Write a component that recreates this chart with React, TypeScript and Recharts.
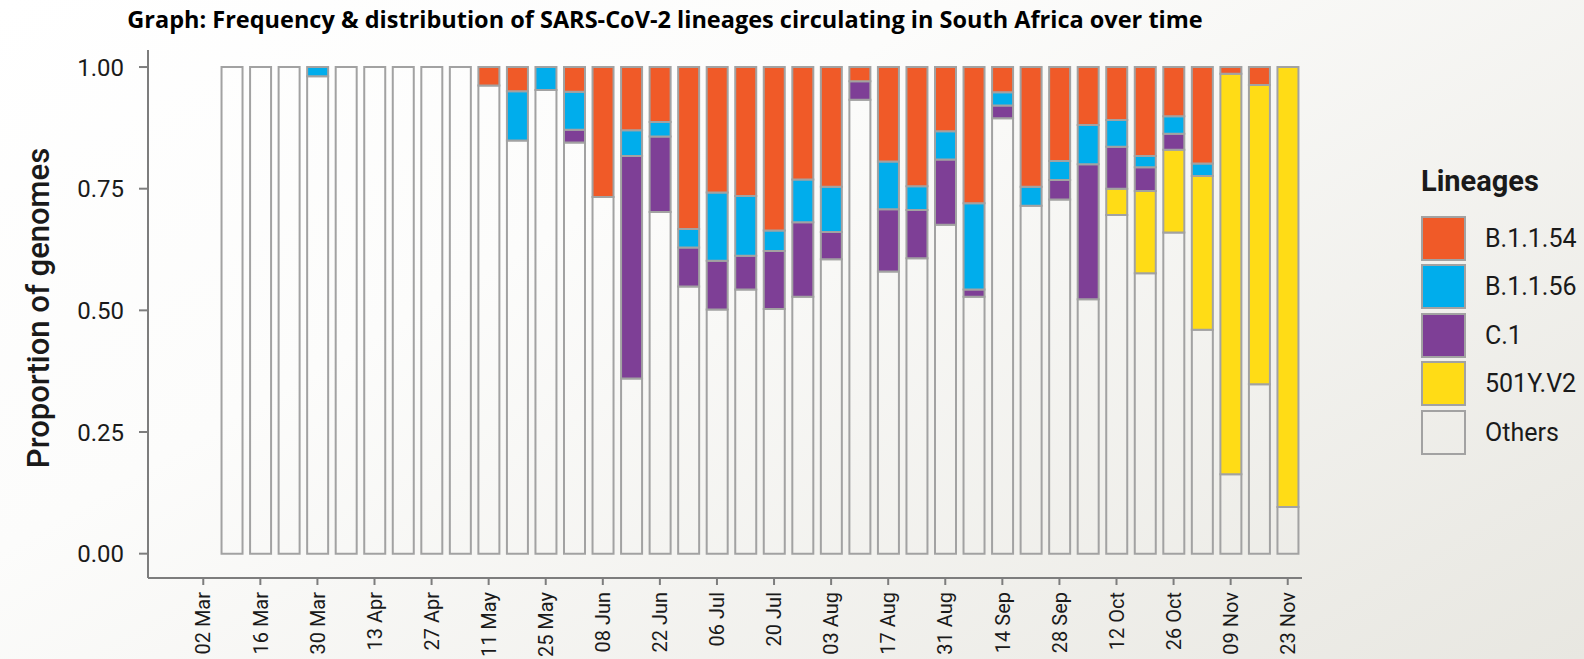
import { Bar, BarChart, XAxis, YAxis } from "recharts";

// weekly sampling dates (first week has no genomes)
const weeks = [
  "02 Mar", "09 Mar", "16 Mar", "23 Mar", "30 Mar", "06 Apr", "13 Apr", "20 Apr", "27 Apr", "04 May",
  "11 May", "18 May", "25 May", "01 Jun", "08 Jun", "15 Jun", "22 Jun", "29 Jun", "06 Jul", "13 Jul",
  "20 Jul", "27 Jul", "03 Aug", "10 Aug", "17 Aug", "24 Aug", "31 Aug", "07 Sep", "14 Sep", "21 Sep",
  "28 Sep", "05 Oct", "12 Oct", "19 Oct", "26 Oct", "02 Nov", "09 Nov", "16 Nov", "23 Nov",
];

const others = [
  0, 1, 1, 1, 0.981, 1, 1, 1, 1, 1,
  0.962, 0.849, 0.953, 0.845, 0.733, 0.36, 0.702, 0.549, 0.502, 0.543,
  0.503, 0.528, 0.605, 0.933, 0.58, 0.607, 0.676, 0.528, 0.895, 0.715,
  0.728, 0.523, 0.696, 0.576, 0.66, 0.46, 0.163, 0.348, 0.096,
];
const v501Y = [
  0, 0, 0, 0, 0, 0, 0, 0, 0, 0,
  0, 0, 0, 0, 0, 0, 0, 0, 0, 0,
  0, 0, 0, 0, 0, 0, 0, 0, 0, 0,
  0, 0, 0.054, 0.169, 0.17, 0.316, 0.823, 0.615, 0.904,
];
const c1 = [
  0, 0, 0, 0, 0, 0, 0, 0, 0, 0,
  0, 0, 0, 0.026, 0, 0.457, 0.155, 0.08, 0.1, 0.069,
  0.119, 0.153, 0.056, 0.038, 0.128, 0.099, 0.134, 0.015, 0.026, 0,
  0.04, 0.277, 0.086, 0.049, 0.033, 0, 0, 0, 0,
];
const b1156 = [
  0, 0, 0, 0, 0.019, 0, 0, 0, 0, 0,
  0, 0.101, 0.047, 0.078, 0, 0.053, 0.03, 0.038, 0.14, 0.123,
  0.042, 0.088, 0.093, 0, 0.098, 0.049, 0.058, 0.177, 0.027, 0.039,
  0.039, 0.081, 0.055, 0.023, 0.036, 0.026, 0, 0, 0,
];
const b1154 = [
  0, 0, 0, 0, 0, 0, 0, 0, 0, 0,
  0.038, 0.05, 0, 0.051, 0.267, 0.13, 0.113, 0.333, 0.258, 0.265,
  0.336, 0.231, 0.246, 0.029, 0.194, 0.245, 0.132, 0.28, 0.052, 0.246,
  0.193, 0.119, 0.109, 0.183, 0.101, 0.198, 0.014, 0.037, 0,
];

// stacked bottom to top
const seriesNames = ["Others", "501Y.V2", "C.1", "B.1.1.56", "B.1.1.54"];
const seriesValues = [others, v501Y, c1, b1156, b1154];
const seriesColors = ["transparent", "#ffdc16", "#7e3f96", "#00adec", "#f05a28"];
const yTicks = [0, 0.25, 0.5, 0.75, 1];

const data = weeks.map((week, i) => {
  const row: Record<string, string | number> = { week };
  seriesNames.forEach((name, s) => {
    row[name] = seriesValues[s][i];
  });
  return row;
});

const FONT = "Roboto, 'Noto Sans', sans-serif";
const GREY = "#a2a2a2";
const AXIS = "#7d7d7d";
const INK = "#1a1a1a";

function DateTick({ x, y, payload }: any) {
  return (
    <g transform={`translate(${x},${y})`}>
      <text transform="rotate(-90)" textAnchor="end" dy="0.36em" fill={INK} fontSize={20} fontFamily={FONT}>
        {payload.value}
      </text>
    </g>
  );
}

function YTitle({ viewBox }: any) {
  const cx = 38;
  const cy = viewBox.y + viewBox.height / 2 - 6;
  return (
    <text
      x={cx}
      y={cy}
      transform={`rotate(-90, ${cx}, ${cy})`}
      textAnchor="middle"
      dominantBaseline="central"
      fill={INK}
      fontSize={31}
      fontWeight={500}
      fontFamily={FONT}
    >
      Proportion of genomes
    </text>
  );
}

export default function App() {
  return (
    <div
      style={{
        position: "absolute",
        left: 0,
        top: 0,
        width: 1584,
        height: 659,
        overflow: "hidden",
        background: "linear-gradient(150deg, #ffffff 0%, #fcfcfb 35%, #e8e7e1 100%)",
      }}
    >
      <div
        style={{
          position: "absolute",
          left: 0,
          width: 1330,
          top: 3,
          textAlign: "center",
          fontFamily: "'Open Sans', sans-serif",
          fontWeight: 700,
          fontSize: 23.5,
          color: "#000",
          whiteSpace: "nowrap",
        }}
      >
        Graph: Frequency &amp; distribution of SARS-CoV-2 lineages circulating in South Africa over time
      </div>

      <BarChart width={1584} height={659} data={data} margin={{ top: 50, right: 282, bottom: 6, left: 88 }}>
        <XAxis
          dataKey="week"
          interval={1}
          height={75}
          padding={{ left: 41, right: 0 }}
          tickSize={7}
          tickMargin={7}
          tick={<DateTick />}
          axisLine={{ stroke: AXIS, strokeWidth: 2 }}
          tickLine={{ stroke: AXIS, strokeWidth: 2 }}
        />
        <YAxis
          width={60}
          domain={[-0.05, 1.035]}
          ticks={yTicks}
          tickFormatter={(v: number) => v.toFixed(2)}
          tickSize={9}
          tickMargin={15}
          tick={{ fill: INK, fontSize: 24, fontFamily: FONT }}
          axisLine={{ stroke: AXIS, strokeWidth: 2 }}
          tickLine={{ stroke: AXIS, strokeWidth: 2 }}
          label={<YTitle />}
        />
        {seriesNames.map((name, s) => (
          <Bar
            key={name}
            dataKey={name}
            stackId="lineage"
            barSize={21}
            fill={seriesColors[s]}
            stroke={GREY}
            strokeWidth={2}
            isAnimationActive={false}
          />
        ))}
      </BarChart>

      <div style={{ position: "absolute", left: 1421, top: 161, fontFamily: FONT, color: INK }}>
        <div style={{ fontWeight: 700, fontSize: 29, lineHeight: "40px", marginBottom: 13 }}>Lineages</div>
        {seriesNames
          .map((name, s) => ({ name, color: seriesColors[s] }))
          .reverse()
          .map((item) => (
            <div key={item.name} style={{ display: "flex", alignItems: "center", height: 48.5 }}>
              <div
                style={{
                  width: 45,
                  height: 45,
                  boxSizing: "border-box",
                  border: `2px solid ${GREY}`,
                  background: item.color,
                }}
              />
              <span style={{ marginLeft: 19, fontSize: 25 }}>{item.name}</span>
            </div>
          ))}
      </div>
    </div>
  );
}
